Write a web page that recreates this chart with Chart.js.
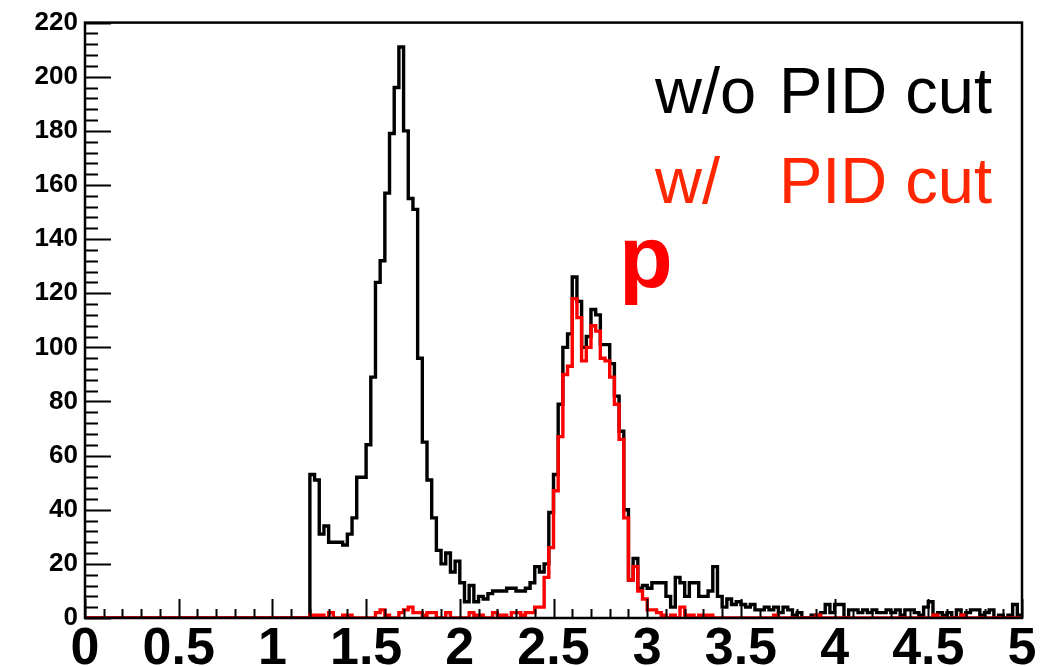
<!DOCTYPE html>
<html>
<head>
<meta charset="utf-8">
<script src="https://cdn.jsdelivr.net/npm/chart.js@4.4.1/dist/chart.umd.min.js"></script>
<style>
  html, body { margin: 0; padding: 0; background: #fff; }
  canvas { display: block; }
</style>
</head>
<body>
<canvas id="hist" width="1055" height="666"></canvas>
<script>
// histogram binning: 200 bins of 0.025 from 0 to 5
const binWidth = 0.025;
const xRange = [0, 5];
const yRange = [0, 220];
const xTickStep = 0.5;
const yTickStep = 20;

// counts per bin, without PID cut (black)
const countsNoCut = [
  0,0,0,0,0,0,0,0,0,0, 0,0,0,0,0,0,0,0,0,0,
  0,0,0,0,0,0,0,0,0,0, 0,0,0,0,0,0,0,0,0,0,
  0,0,0,0,0,0,0,0,53,51, 31,34,28,28,28,27,31,37,52,52,
  64,89,124,132,157,179,196,211,180,155, 151,96,65,51,37,25,20,24,17,21,
  13,6,12,6,8,7,9,10,10,10, 11,11,10,10,11,13,19,17,20,39,
  53,79,100,105,126,117,100,104,114,112, 101,101,94,82,69,40,14,22,11,12,
  11,13,13,13,8,4,15,13,8,13, 13,8,8,10,19,8,4,7,5,6,
  5,4,5,3,3,4,3,4,2,4, 3,1,2,0,0,1,1,2,5,2,
  5,5,0,3,3,2,3,2,3,2, 2,3,2,3,1,3,3,2,1,4,
  6,1,2,1,2,0,3,1,2,3, 3,1,2,3,0,1,0,1,5,1
];

// counts per bin, with PID cut (red)
const countsPidCut = [
  0,0,0,0,0,0,0,0,0,0, 0,0,0,0,0,0,0,0,0,0,
  0,0,0,0,0,0,0,0,0,0, 0,0,0,0,0,0,0,0,0,0,
  0,0,0,0,0,0,0,0,1,1, 1,0,2,0,0,1,1,0,0,0,
  0,0,2,3,1,0,0,2,3,4, 2,2,1,2,2,0,0,2,0,0,
  0,0,2,1,1,0,0,2,1,1, 0,2,2,1,2,2,4,4,15,26,
  47,67,90,93,118,111,95,100,108,106, 96,95,89,79,66,37,14,19,10,7,
  3,3,2,1,0,1,0,4,1,1, 0,1,1,1,0,0,0,0,0,0,
  0,0,0,0,0,0,0,1,0,0, 0,0,0,0,0,0,1,0,0,0,
  0,0,0,0,0,0,0,0,0,0, 0,0,0,0,0,0,0,0,0,0,
  0,1,0,0,0,0,0,1,0,0, 0,0,0,0,0,0,0,0,0,0
];

const legendNoCut = ["w/o", "PID cut"];
const legendPidCut = ["w/", "PID cut"];
const peakLabel = "p";

const toSteps = (counts) => {
  const pts = counts.map((c, i) => ({x: xRange[0] + i * binWidth, y: c}));
  pts.push({x: xRange[1], y: counts[counts.length - 1]});
  return pts;
};

// ROOT style inner ticks and frame
const frame = {
  id: 'frame',
  afterDatasetsDraw(chart) {
    const {ctx, chartArea: {left, right, top, bottom}} = chart;
    const xs = chart.scales.x, ys = chart.scales.y;
    ctx.save();
    ctx.strokeStyle = '#000';
    ctx.lineWidth = 2;
    ctx.beginPath();
    for (let i = 0; i <= 50; i++) {
      const px = Math.round(xs.getPixelForValue(i * 0.1)) + 0.5;
      const len = i % 5 === 0 ? 19 : 9;
      ctx.moveTo(px, bottom);
      ctx.lineTo(px, bottom - len);
    }
    for (let i = 0; i <= 55; i++) {
      const py = Math.round(ys.getPixelForValue(i * 4)) + 0.5;
      const len = i % 5 === 0 ? 26 : 13;
      ctx.moveTo(left, py);
      ctx.lineTo(left + len, py);
    }
    ctx.stroke();
    ctx.lineWidth = 2.5;
    ctx.strokeRect(left, top, right - left, bottom - top);
    ctx.restore();
  }
};

const labels = {
  id: 'labels',
  afterDraw(chart) {
    const {ctx} = chart;
    ctx.save();
    ctx.textBaseline = 'alphabetic';
    ctx.font = '65px "Liberation Sans", Arial, sans-serif';
    ctx.fillStyle = '#000';
    ctx.textAlign = 'left';
    ctx.fillText(legendNoCut[0], 655, 113);
    ctx.textAlign = 'right';
    ctx.fillText(legendNoCut[1], 992, 113);
    ctx.fillStyle = '#ff2600';
    ctx.textAlign = 'left';
    ctx.fillText(legendPidCut[0], 655, 203);
    ctx.textAlign = 'right';
    ctx.fillText(legendPidCut[1], 992, 203);
    ctx.fillStyle = '#ff0000';
    ctx.textAlign = 'left';
    ctx.font = 'bold 88px "Liberation Sans", Arial, sans-serif';
    ctx.fillText(peakLabel, 619, 287);
    ctx.restore();
  }
};

new Chart(document.getElementById('hist'), {
  type: 'line',
  data: {
    datasets: [
      {
        label: 'w/ PID cut',
        data: toSteps(countsPidCut),
        borderColor: '#ff0000',
        borderWidth: 3.4,
        stepped: true,
        pointRadius: 0,
        fill: false
      },
      {
        label: 'w/o PID cut',
        data: toSteps(countsNoCut),
        borderColor: '#000000',
        borderWidth: 3.4,
        stepped: true,
        pointRadius: 0,
        fill: false
      }
    ]
  },
  options: {
    responsive: false,
    animation: false,
    events: [],
    layout: {padding: {top: 16, right: 33, left: 0, bottom: 0}},
    plugins: {legend: {display: false}, tooltip: {enabled: false}},
    scales: {
      x: {
        type: 'linear',
        min: xRange[0],
        max: xRange[1],
        grid: {display: false, drawTicks: false},
        border: {display: false},
        afterFit: (s) => { s.height = 48; },
        ticks: {
          stepSize: xTickStep,
          autoSkip: false,
          maxRotation: 0,
          padding: 0,
          color: '#000',
          font: {family: '"Liberation Sans", Arial, sans-serif', size: 52, weight: 'bold'},
          callback: (v) => String(Number(v))
        }
      },
      y: {
        min: yRange[0],
        max: yRange[1],
        grid: {display: false, drawTicks: false},
        border: {display: false},
        afterFit: (s) => { s.width = 85; },
        ticks: {
          stepSize: yTickStep,
          padding: 7,
          color: '#000',
          font: {family: '"Liberation Sans", Arial, sans-serif', size: 26, weight: 'bold'}
        }
      }
    }
  },
  plugins: [frame, labels]
});
</script>
</body>
</html>
